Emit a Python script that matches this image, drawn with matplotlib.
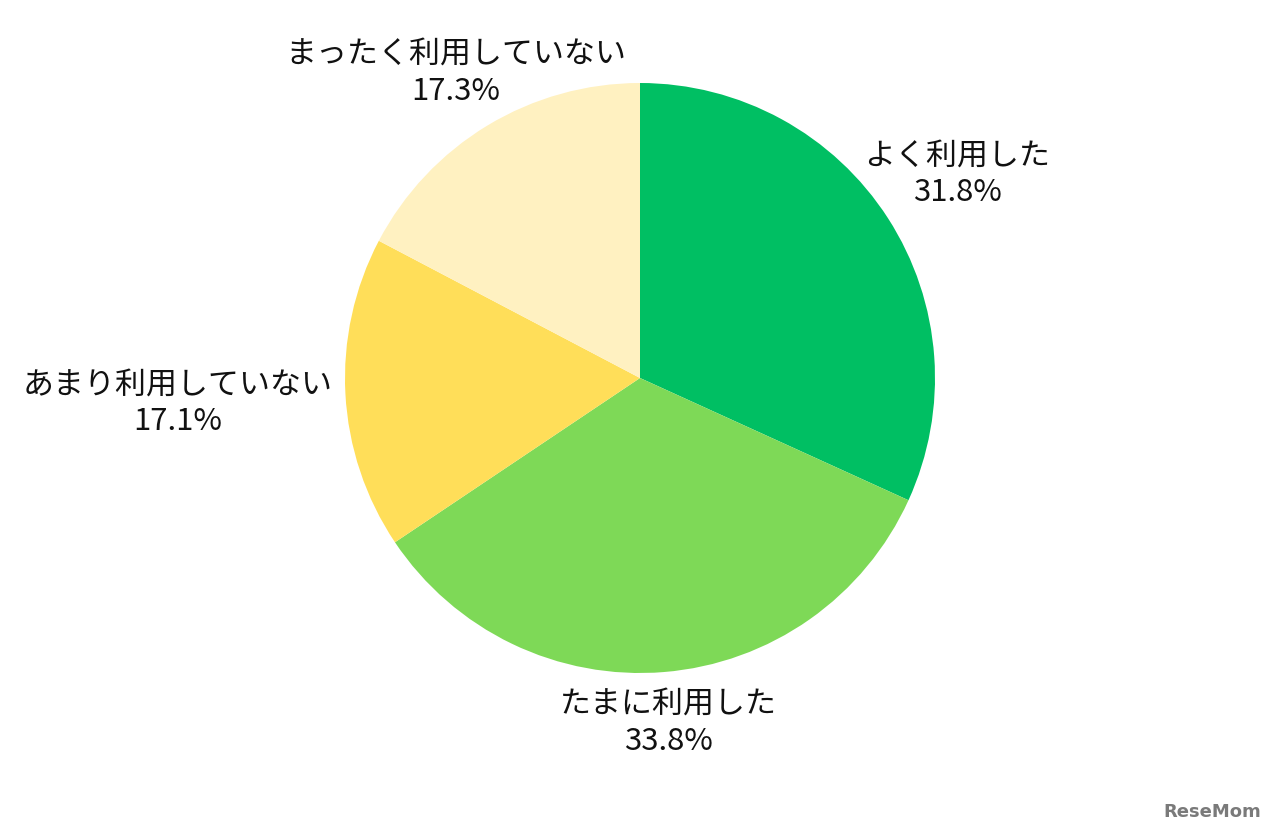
import matplotlib
matplotlib.use("Agg")
import matplotlib.pyplot as plt
import numpy as np

plt.rcParams['font.family'] = ['Noto Sans CJK JP', 'DejaVu Sans']

categories = ["よく利用した", "たまに利用した", "あまり利用していない", "まったく利用していない"]
values = [31.8, 33.8, 17.1, 17.3]
colors = ["#00BF63", "#7ED957", "#FFDE59", "#FFF1C1"]
label_dist = [1.28, 1.17, 1.57, 1.21]

W, H = 1280, 837
fig = plt.figure(figsize=(W / 100, H / 100), dpi=100)
cx, cy, r = 640, 379, 295
ax = fig.add_axes([(cx - r) / W, (H - cy - r) / H, 2 * r / W, 2 * r / H])
wedges, _ = ax.pie(values, colors=colors, startangle=90, counterclock=False,
                   radius=1.0, wedgeprops=dict(linewidth=0))
ax.set_xlim(-1, 1)
ax.set_ylim(-1, 1)
ax.set_aspect('equal')
ax.axis('off')

for w, cat, v, d in zip(wedges, categories, values, label_dist):
    ang = np.deg2rad((w.theta1 + w.theta2) / 2)
    x, y = d * np.cos(ang), d * np.sin(ang)
    ax.text(x, y, f"{cat}\n{v:.1f}%", ha='center', va='center', fontsize=22.3,
            color='#111111', linespacing=1.21, clip_on=False)

fig.text(1212 / W, 1 - 812 / H, "ReseMom", ha='center', va='center', fontsize=13,
         fontweight='bold', color='#7a7a7a', family='DejaVu Sans')

fig.savefig("out.png", dpi=100, facecolor='white')
